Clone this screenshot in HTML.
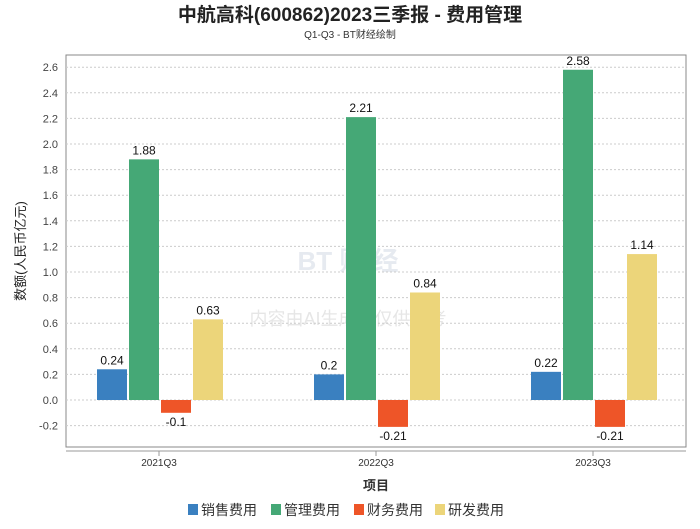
<!DOCTYPE html>
<html><head><meta charset="utf-8"><style>
body{margin:0;background:#fff;font-family:"Liberation Sans","Noto Sans CJK SC",sans-serif;}
svg text{font-family:"Liberation Sans","Noto Sans CJK SC",sans-serif;}
</style></head><body>
<svg id="c" width="700" height="524" xmlns="http://www.w3.org/2000/svg">
<text x="350" y="21" text-anchor="middle" font-size="19" font-weight="bold" fill="#222">中航高科(600862)2023三季报 - 费用管理</text>
<text x="350" y="38" text-anchor="middle" font-size="10" fill="#333">Q1-Q3 - BT财经绘制</text>
<text x="348" y="270" text-anchor="middle" font-size="26" font-weight="bold" fill="#e6eaf0">BT 财 经</text>
<text x="348" y="325" text-anchor="middle" font-size="18" fill="#e6e6e6">内容由AI生成，仅供参考</text>
<rect x="66" y="55" width="620" height="392" fill="none" stroke="#888"/>
<line x1="66" y1="451" x2="686" y2="451" stroke="#999"/>
<g id="grid"></g><g id="bars"></g>
<text transform="translate(25,251) rotate(-90)" text-anchor="middle" font-size="13" fill="#222">数额(人民币亿元)</text>
<text x="376" y="490" text-anchor="middle" font-size="13" font-weight="bold" fill="#333">项目</text>
<g id="legend"></g>
</svg>
<script>
const categories=["2021Q3","2022Q3","2023Q3"];
const seriesNames=["销售费用","管理费用","财务费用","研发费用"];
const sales=[0.24,0.2,0.22];
const admin=[1.88,2.21,2.58];
const finance=[-0.1,-0.21,-0.21];
const rnd=[0.63,0.84,1.14];
const yTicks=[-0.2,0,0.2,0.4,0.6,0.8,1.0,1.2,1.4,1.6,1.8,2.0,2.2,2.4,2.6];
const colors=["#3a80c0","#45a876","#ee5528","#ecd57a"];
const NS="http://www.w3.org/2000/svg";
const y=v=>400-v*128;
const xc=i=>159+i*217;
function mk(t,a,p){const e=document.createElementNS(NS,t);for(const k in a)e.setAttribute(k,a[k]);p.appendChild(e);return e;}
const svg=document.getElementById('c'),grid=document.getElementById('grid'),bars=document.getElementById('bars'),leg=document.getElementById('legend');
yTicks.forEach(v=>{
 const l=mk('line',{x1:66,x2:686,y1:y(v),y2:y(v),stroke:'#ccc','stroke-dasharray':'2,2'},grid);
 
 
 const t=mk('text',{x:58,y:y(v)+4,'text-anchor':'end','font-size':11,fill:'#444'},grid);
 t.textContent=v.toFixed(1);
 
 
});
categories.forEach((c,i)=>{
 const tk=mk('line',{x1:xc(i),x2:xc(i),y1:451,y2:456,stroke:'#999'},grid);
 
 
 const t=mk('text',{x:xc(i),y:466,'text-anchor':'middle','font-size':10,fill:'#333'},grid);
 t.textContent=c;
 
 
});
[sales,admin,finance,rnd].forEach((arr,s)=>{
 arr.forEach((v,i)=>{
  const x=xc(i)-62+s*32;
  const r=mk('rect',{x:x,y:Math.min(y(v),y(0)),width:30,height:Math.abs(y(v)-y(0)),fill:colors[s]},bars);
  
  
  const t=mk('text',{x:x+15,y:v>=0?y(v)-5:y(v)+13,'text-anchor':'middle','font-size':12,fill:'#111'},bars);
  t.textContent=String(v);
  
  
 });
});
const lx=[188,271,354,435];
seriesNames.forEach((n,s)=>{
 const g=mk('g',{},leg);
 
 
 mk('rect',{x:lx[s],y:504,width:10,height:11,fill:colors[s]},g);
 const t=mk('text',{x:lx[s]+13,y:515,'font-size':14,fill:'#333'},g);
 t.textContent=n;
});
</script>
</body></html>
